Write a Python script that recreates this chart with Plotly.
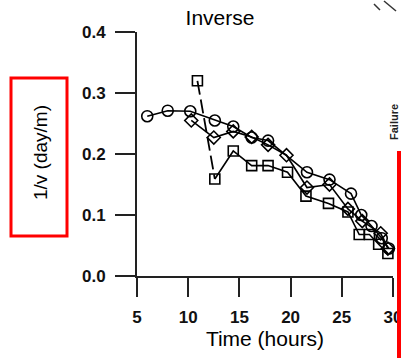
import plotly.graph_objects as go

# Series
circle_x = [6, 8, 10.2, 12.6, 14.4, 16.2, 17.8, 21.6, 23.8, 25.9, 26.9, 27.9, 28.9, 29.6]
circle_y = [0.262, 0.271, 0.270, 0.255, 0.245, 0.227, 0.222, 0.170, 0.158, 0.135, 0.100, 0.082, 0.062, 0.045]

diamond_x = [10.3, 12.5, 14.4, 16.2, 17.8, 19.6, 21.6, 23.8, 25.6, 27.0, 28.8, 29.5]
diamond_y = [0.255, 0.227, 0.237, 0.228, 0.215, 0.198, 0.145, 0.150, 0.110, 0.090, 0.070, 0.045]

square_x = [10.9, 12.6, 14.4, 16.2, 17.8, 19.7, 21.5, 23.7, 25.6, 26.7, 27.7, 28.6, 29.5]
square_y = [0.320, 0.159, 0.205, 0.181, 0.181, 0.170, 0.131, 0.119, 0.105, 0.068, 0.068, 0.052, 0.037]

x_ticks = [5, 10, 15, 20, 25, 30]
x_tick_text = ["5", "10", "15", "20", "25", "30"]
y_ticks = [0.0, 0.1, 0.2, 0.3, 0.4]
y_tick_text = ["0.0", "0.1", "0.2", "0.3", "0.4"]

fig = go.Figure()

line_style = dict(color="black", width=1.6)

fig.add_trace(go.Scatter(
    x=circle_x, y=circle_y, mode="lines+markers", line=line_style,
    marker=dict(symbol="circle-open", size=11, color="black", line=dict(width=1.6)),
    showlegend=False, cliponaxis=False, hoverinfo="skip"))

fig.add_trace(go.Scatter(
    x=diamond_x, y=diamond_y, mode="lines+markers", line=line_style,
    marker=dict(symbol="diamond-open", size=10, color="black", line=dict(width=1.6)),
    showlegend=False, cliponaxis=False, hoverinfo="skip"))

# first square segment is dashed
fig.add_trace(go.Scatter(
    x=square_x[:2], y=square_y[:2], mode="lines",
    line=dict(color="black", width=1.8, dash="14px,5px"),
    showlegend=False, cliponaxis=False, hoverinfo="skip"))
fig.add_trace(go.Scatter(
    x=square_x[1:], y=square_y[1:], mode="lines", line=line_style,
    showlegend=False, cliponaxis=False, hoverinfo="skip"))
fig.add_trace(go.Scatter(
    x=square_x, y=square_y, mode="markers",
    marker=dict(symbol="square-open", size=10, color="black", line=dict(width=1.6)),
    showlegend=False, cliponaxis=False, hoverinfo="skip"))

L, R, T, B = 137, 8, 32, 82
W, H = 401, 358
pw = W - L - R
ph = H - T - B

def px(xp):
    return (xp - L) / pw

def py(yp):
    return (H - B - yp) / ph

tick_font = dict(size=17, family="Arial, Liberation Sans, sans-serif", color="#111")

fig.update_layout(
    width=W, height=H,
    margin=dict(l=L, r=R, t=T, b=B, pad=0, autoexpand=False),
    paper_bgcolor="white", plot_bgcolor="white",
    font=dict(family="Arial, Liberation Sans, sans-serif", color="black"),
    title=dict(text="Inverse", x=px(220), xref="paper", xanchor="center",
               y=1 - 18 / H, yanchor="middle",
               font=dict(size=21, color="black")),
    xaxis=dict(range=[5, 30], tickvals=x_ticks,
               ticktext=["<b>" + t + "</b>" for t in x_tick_text],
               showgrid=False, zeroline=False, automargin=False,
               ticklabeloverflow="allow",
               showline=True, linecolor="#222", linewidth=2,
               ticks="outside", ticklen=19, tickwidth=2, tickcolor="#222",
               ticklabelstandoff=6, tickfont=tick_font,
               title=dict(text="Time (hours)", font=dict(size=21, color="black"), standoff=0)),
    yaxis=dict(range=[0, 0.4], tickvals=y_ticks,
               ticktext=["<b>" + t + "</b>" for t in y_tick_text],
               showgrid=False, automargin=False, ticklabeloverflow="allow",
               zeroline=False, showline=True, linecolor="#222", linewidth=2,
               ticks="outside", ticklen=20, tickwidth=2, tickcolor="#222",
               ticklabelstandoff=6, tickfont=tick_font),
    shapes=[
        dict(type="rect", xref="paper", yref="paper",
             x0=px(11), x1=px(67), y0=py(236), y1=py(78),
             line=dict(color="#ff0000", width=3)),
        dict(type="line", xref="paper", yref="paper",
             x0=px(399), x1=px(399), y0=py(151), y1=py(360),
             line=dict(color="#ff0000", width=4)),
        dict(type="line", xref="paper", yref="paper",
             x0=px(374), x1=px(380), y0=py(4), y1=py(10),
             line=dict(color="#333", width=1.5)),
        dict(type="line", xref="paper", yref="paper",
             x0=px(384), x1=px(396), y0=py(1), y1=py(11),
             line=dict(color="#333", width=1.5)),
    ],
    annotations=[
        dict(text="1/v (day/m)", xref="paper", yref="paper", x=px(40), y=py(153),
             textangle=-90, showarrow=False, xanchor="center", yanchor="middle",
             font=dict(size=19, color="black")),
        dict(text="<b>Failure</b>", xref="paper", yref="paper", x=px(394), y=py(122),
             textangle=-90, showarrow=False, xanchor="center", yanchor="middle",
             font=dict(size=11, color="#222")),
    ],
)

fig.write_html("out.html", config={"displayModeBar": False, "staticPlot": True},
               post_script="document.body.style.margin='0';document.body.style.overflow='hidden';")
